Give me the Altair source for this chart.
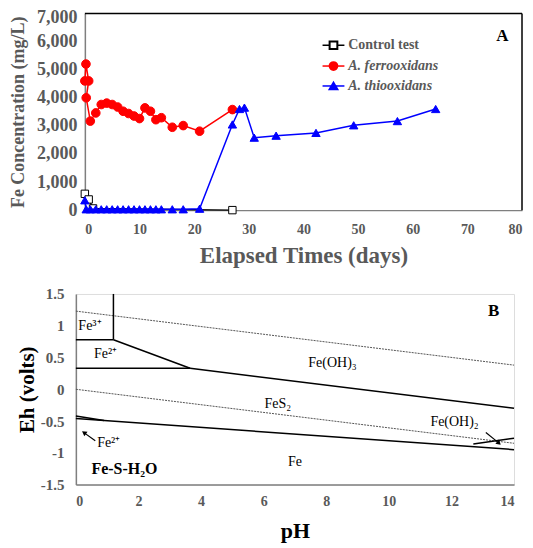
import altair as alt
import pandas as pd

# ---------------- Panel A data ----------------
ctrl_days = [0, 0.7, 1.5, 27]
ctrl_vals = [580, 380, 60, 0]

ferro_days = [0, 0.2, 0.7, 0.25, 1, 2, 3, 4, 5, 6, 7, 8, 9, 10, 11, 12, 13, 14, 16, 18, 21, 27]
ferro_vals = [4600, 5200, 4600, 4000, 3170, 3460, 3760, 3810, 3760, 3670, 3520, 3440, 3350,
              3260, 3640, 3520, 3220, 3290, 2950, 3010, 2810, 3580]

thio_days = [0, 0.25, 1, 2, 3, 4, 5, 6, 7, 8, 9, 10, 11, 12, 13, 14, 16, 18, 21,
             27, 28.3, 29.2, 31, 35, 42.3, 49.2, 57.2, 64.2]
thio_vals = [350, 30, 30, 30, 30, 30, 30, 30, 30, 30, 30, 30, 30, 30, 30, 30, 30, 30, 50,
             3050, 3600, 3650, 2580, 2650, 2750, 3020, 3170, 3600]

legend_names = ["Control test", "A. ferrooxidans", "A. thiooxidans"]

# ---------------- Panel B data ----------------
seg_ids = ["a", "a", "b", "b", "c", "c", "d", "d", "e", "e", "f", "f", "g", "g", "h", "h"]
seg_ph = [1.2, 1.2, 0, 1.2, 1.2, 3.65, 0, 3.65, 3.65, 14, 0, 14, 0, 0.9, 12.7, 14]
seg_eh = [1.5, 0.78, 0.78, 0.78, 0.78, 0.33, 0.33, 0.33, 0.33, -0.30, -0.46, -0.95,
          -0.42, -0.49, -0.86, -0.77]

water_ids = ["up", "up", "lo", "lo"]
water_ph = [0, 14, 0, 14]
water_eh = [1.23, 0.38, 0.0, -0.85]

label_txt = ["Fe³⁺", "Fe²⁺", "Fe(OH)₃", "FeS₂", "Fe(OH)₂", "Fe", "Fe²⁺"]
label_ph = [0.45, 0.95, 8.2, 6.45, 12.1, 7.0, 1.05]
label_eh = [1.0, 0.55, 0.42, -0.23, -0.52, -1.14, -0.85]

arrow_ids = ["l", "l", "r", "r"]
arrow_ph = [0.62, 0.28, 13.1, 13.5]
arrow_eh = [-0.81, -0.69, -0.68, -0.84]
head_ph = [0.28, 13.5]
head_eh = [-0.69, -0.84]
head_angle = [305, 130]

FONT = "Liberation Serif"
GRAY = "#595959"
SHIFT_A = 9  # panel A plot starts this many px right of panel B

# ---------------- Panel A ----------------
rows = []
for i, (d, v) in enumerate(zip(ctrl_days, ctrl_vals)):
    rows.append({"series": legend_names[0], "day": d, "val": v, "i": i})
for i, (d, v) in enumerate(zip(ferro_days, ferro_vals)):
    rows.append({"series": legend_names[1], "day": d, "val": v, "i": i})
for i, (d, v) in enumerate(zip(thio_days, thio_vals)):
    rows.append({"series": legend_names[2], "day": d, "val": v, "i": i})
dfa = pd.DataFrame(rows)

WA = 447
xa = alt.X("day:Q", scale=alt.Scale(domain=[0, 80], nice=False, range=[SHIFT_A, WA]),
           axis=alt.Axis(title="Elapsed Times (days)", values=list(range(0, 81, 10)),
                         grid=False, ticks=False, labelPadding=12, titlePadding=8, labelOverlap=False,
                         labelFont=FONT, labelFontWeight="bold", labelFontSize=14, labelColor=GRAY,
                         titleFont=FONT, titleFontWeight="bold", titleFontSize=23, titleColor=GRAY,
                         domainColor="#7f7f7f", domainWidth=1.5))
ya = alt.Y("val:Q", scale=alt.Scale(domain=[0, 7000], nice=False),
           axis=alt.Axis(title="Fe Concentration (mg/L)", values=list(range(0, 7001, 1000)),
                         format=",d", grid=False, ticks=False, labelPadding=8, titlePadding=9,
                         labelOverlap=False, offset=-SHIFT_A,
                         labelOffset={"condition": {"test": "datum.value === 7000", "value": 4},
                                      "value": 0},
                         labelFont=FONT, labelFontWeight="bold", labelFontSize=18, labelColor=GRAY,
                         titleFont=FONT, titleFontWeight="bold", titleFontSize=18, titleColor=GRAY,
                         domainColor="#7f7f7f", domainWidth=1.5))

def series_layers(name, color, shape, fill, size):
    d = dfa[dfa.series == name]
    line = alt.Chart(d).mark_line(color=color, strokeWidth=1.5).encode(x=xa, y=ya, order="i:Q")
    pts = alt.Chart(d).mark_point(shape=shape, filled=True, fill=fill, stroke=color,
                                  strokeWidth=1, size=size, opacity=1).encode(x=xa, y=ya)
    return line + pts

ctrl_layer = series_layers(legend_names[0], "black", "square", "white", 55)
ferro_layer = series_layers(legend_names[1], "red", "circle", "red", 75)
thio_layer = series_layers(legend_names[2], "blue", "triangle-up", "blue", 70)

# frame of panel A (top and right edges)
frame_df = pd.DataFrame({"day": [0, 80], "day2": [80, 80], "val": [7000, 0], "val2": [7000, 7000]})
frame = alt.Chart(frame_df).mark_rule(color="black", strokeWidth=1.5).encode(
    x=xa, x2="day2:Q", y=ya, y2="val2:Q")

# legend (placed in data coordinates of panel A)
leg_y = [5870, 5130, 4420]
leg_df = pd.DataFrame({"name": legend_names, "val": leg_y,
                       "day": [43.5] * 3, "day2": [47.5] * 3,
                       "style": ["normal", "italic", "italic"]})
leg_colors = ["black", "red", "blue"]
leg_shapes = ["square", "circle", "triangle-up"]
leg_fills = ["white", "red", "blue"]
leg_layers = []
for k in range(3):
    r = leg_df.iloc[[k]]
    leg_layers.append(alt.Chart(r).mark_rule(color=leg_colors[k], strokeWidth=1.5).encode(
        x=xa, x2="day2:Q", y=ya))
    leg_layers.append(alt.Chart(r).transform_calculate(day="(datum.day + datum.day2) / 2").mark_point(
        shape=leg_shapes[k], filled=True, fill=leg_fills[k], stroke=leg_colors[k], size=60,
        opacity=1).encode(x=xa, y=ya))
    leg_layers.append(alt.Chart(r).transform_calculate(day="datum.day2 + 0.7").mark_text(
        align="left", baseline="middle", font=FONT, fontWeight="bold", fontSize=14, color=GRAY,
        fontStyle=leg_df["style"][k]).encode(x=xa, y=ya, text="name:N"))

tagA = alt.Chart(pd.DataFrame({"t": ["A"], "day": [76.4], "val": [6200]})).mark_text(
    font=FONT, fontWeight="bold", fontSize=17, color="black").encode(x=xa, y=ya, text="t:N")

panelA = alt.layer(frame, ctrl_layer, ferro_layer, thio_layer, *leg_layers, tagA).properties(
    width=WA, height=197, view=alt.ViewBackground(strokeOpacity=0))

# ---------------- Panel B ----------------
dseg = pd.DataFrame({"id": seg_ids, "ph": seg_ph, "eh": seg_eh})
dw = pd.DataFrame({"id": water_ids, "ph": water_ph, "eh": water_eh})
dl = pd.DataFrame({"t": label_txt, "ph": label_ph, "eh": label_eh})
dar = pd.DataFrame({"id": arrow_ids, "ph": arrow_ph, "eh": arrow_eh})
dhead = pd.DataFrame({"ph": head_ph, "eh": head_eh, "ang": head_angle})

xb = alt.X("ph:Q", scale=alt.Scale(domain=[0, 14], nice=False),
           axis=alt.Axis(title="pH", values=list(range(0, 15, 2)), grid=False, ticks=False,
                         labelPadding=10, titlePadding=12, labelOverlap=False,
                         labelFont=FONT, labelFontWeight="bold", labelFontSize=14, labelColor=GRAY,
                         titleFont=FONT, titleFontWeight="bold", titleFontSize=22, titleColor="black",
                         domainColor="#7f7f7f", domainWidth=1.5))
yb = alt.Y("eh:Q", scale=alt.Scale(domain=[-1.5, 1.5], nice=False),
           axis=alt.Axis(title="Eh (volts)", values=[-1.5, -1, -0.5, 0, 0.5, 1, 1.5], grid=False,
                         ticks=False, labelPadding=12, titlePadding=3, labelOverlap=False,
                         labelExpr="datum.value + ''",
                         labelFont=FONT, labelFontWeight="bold", labelFontSize=15, labelColor=GRAY,
                         titleFont=FONT, titleFontWeight="bold", titleFontSize=21, titleColor="black",
                         domainColor="#7f7f7f", domainWidth=1.5))

water = alt.Chart(dw).mark_line(color="#555555", strokeWidth=1, strokeDash=[2, 1]).encode(
    x=xb, y=yb, detail="id:N")
segs = alt.Chart(dseg).mark_line(color="black", strokeWidth=1.5).encode(x=xb, y=yb, detail="id:N")
arrows = alt.Chart(dar).mark_line(color="black", strokeWidth=1.2).encode(x=xb, y=yb, detail="id:N")
heads = alt.Chart(dhead).mark_point(shape="triangle", filled=True, color="black", size=30,
                                    opacity=1).encode(x=xb, y=yb, angle=alt.Angle("ang:Q", scale=None))
labels = alt.Chart(dl).mark_text(font=FONT, fontSize=14, color="black").encode(x=xb, y=yb, text="t:N")
fes = alt.Chart(pd.DataFrame({"t": ["Fe-S-H₂O"], "ph": [1.55], "eh": [-1.25]})).mark_text(
    font=FONT, fontSize=16, fontWeight="bold", color="black").encode(x=xb, y=yb, text="t:N")
tagB = alt.Chart(pd.DataFrame({"t": ["B"], "ph": [13.35], "eh": [1.23]})).mark_text(
    font=FONT, fontSize=17, fontWeight="bold", color="black").encode(x=xb, y=yb, text="t:N")

panelB = alt.layer(water, segs, arrows, heads, labels, fes, tagB).properties(width=439, height=191)

chart = alt.vconcat(panelA, panelB, spacing=19).properties(
    padding={"left": 1, "top": 0, "right": 2, "bottom": 0}
).configure_view(stroke="black", strokeWidth=1.5).configure(background="white")

chart.save("out.html", embed_options={"renderer": "svg", "actions": False})
